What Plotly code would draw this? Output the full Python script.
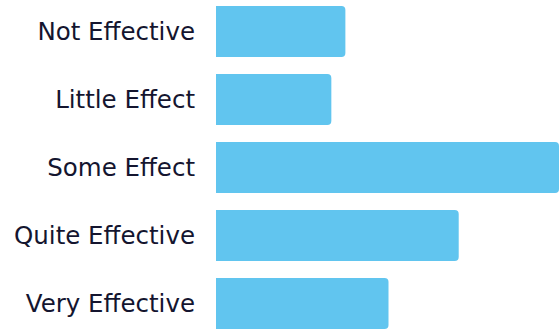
import plotly.graph_objects as go

# Survey responses: share of respondents per effectiveness rating (%)
categories = ["Not Effective", "Little Effect", "Some Effect", "Quite Effective", "Very Effective"]
shares = [12.9, 11.5, 34.2, 24.2, 17.2]

BAR_COLOR = "#61C5EF"
TEXT_COLOR = "#14152F"
LABEL_FONT = "DejaVu Sans"
LABEL_SIZE = 24.5

fig = go.Figure(
    go.Bar(
        x=shares,
        y=categories,
        orientation="h",
        marker=dict(color=BAR_COLOR, cornerradius=4, line=dict(width=0)),
        hoverinfo="skip",
    )
)

fig.update_layout(
    width=559,
    height=331,
    margin=dict(l=216, r=0, t=0, b=0),
    paper_bgcolor="white",
    plot_bgcolor="white",
    bargap=0.25,
    showlegend=False,
    font=dict(family=LABEL_FONT, color=TEXT_COLOR, size=LABEL_SIZE),
)

fig.update_xaxes(
    range=[0, max(shares)],
    visible=False,
    showgrid=False,
    zeroline=False,
)

fig.update_yaxes(
    type="category",
    categoryorder="array",
    categoryarray=categories,
    range=[4.404, -0.463],
    showgrid=False,
    zeroline=False,
    showline=False,
    ticks="",
    ticklabelstandoff=20,
    tickfont=dict(family=LABEL_FONT, size=LABEL_SIZE, color=TEXT_COLOR),
)

fig.write_html("out.html", config={"displayModeBar": False})
